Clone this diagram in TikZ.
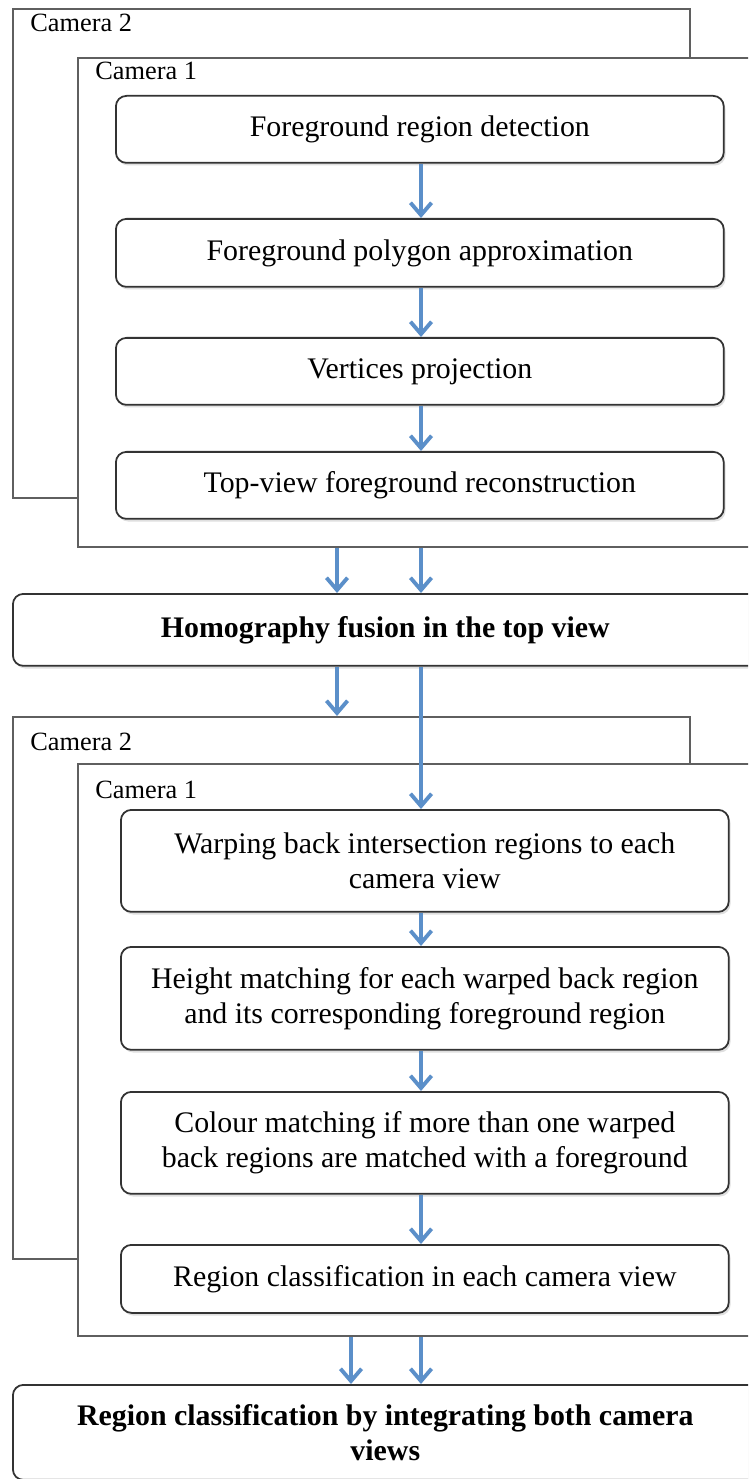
\documentclass[tikz,border=0pt]{standalone}
\usepackage{fontspec}
\setmainfont{Liberation Serif}
\usetikzlibrary{arrows.meta, positioning, shadows}
\definecolor{flowblue}{RGB}{91,143,201}
\definecolor{framegray}{RGB}{95,95,95}

\begin{document}
\begin{tikzpicture}[
      x=0.02cm, y=-0.02cm,
      frame/.style={draw=framegray, line width=1.3pt, fill=white, anchor=north west, inner sep=0pt},
      camlabel/.style={anchor=base west, inner sep=0pt, font=\fontsize{15}{18}\selectfont},
      stepbox/.style={draw=black!80, line width=1pt, rounded corners=6pt, fill=white,
        anchor=north west, minimum width=12.16cm, align=center,
        font=\fontsize{17}{20}\selectfont,
        drop shadow={shadow xshift=1pt, shadow yshift=-1.5pt, opacity=0.25}},
      widebox/.style={stepbox, minimum width=14.9cm, font=\fontsize{17}{20}\selectfont\bfseries},
      flow/.style={draw=flowblue, line width=2.2pt},
      >={Straight Barb[length=7pt, width=12pt]}
    ]
    \clip (0,0) rectangle (748,1479);

    % Upper frames
    \node[frame, minimum width=13.54cm, minimum height=9.78cm] (camtwoa) at (12,8) {};
    \node[camlabel] (camtwoalabel) at (30,32) {Camera 2};
    \node[frame, minimum width=14cm, minimum height=9.78cm] (camonea) at (77,57) {};
    \node[camlabel] (camonealabel) at (95,80) {Camera 1};

    % Upper steps
    \node[stepbox, minimum height=1.34cm] (detect) at (115,95) {Foreground region detection};
    \node[stepbox, minimum height=1.36cm] (polygon) at (115,218) {Foreground polygon approximation};
    \node[stepbox, minimum height=1.34cm] (project) at (115,337) {Vertices projection};
    \node[stepbox, minimum height=1.34cm] (topview) at (115,451) {Top-view foreground reconstruction};

    % Fusion
    \node[widebox, minimum height=1.44cm] (fusion) at (12,593) {Homography fusion in the top view};

    % Lower frames
    \node[frame, minimum width=13.54cm, minimum height=10.84cm] (camtwob) at (12,716) {};
    \node[camlabel] (camtwoblabel) at (30,750) {Camera 2};
    \node[frame, minimum width=14cm, minimum height=11.44cm] (camoneb) at (77,763) {};
    \node[camlabel] (camoneblabel) at (95,798) {Camera 1};

    % Lower steps
    \node[stepbox, minimum height=2.04cm] (warp) at (120,809)
      {Warping back intersection regions to each\\camera view};
    \node[stepbox, minimum height=2.06cm] (height) at (120,946)
      {Height matching for each warped back region\\and its corresponding foreground region};
    \node[stepbox, minimum height=2.04cm] (colour) at (120,1091)
      {Colour matching if more than one warped\\back regions are matched with a foreground};
    \node[stepbox, minimum height=1.36cm] (classify) at (120,1244)
      {Region classification in each camera view};

    % Final
    \node[widebox, minimum height=1.9cm] (integrate) at (12,1384)
      {Region classification by integrating both camera\\views};

    % Arrow columns
    \coordinate (ax) at (337,0);
    \coordinate (bx) at (421,0);
    \coordinate (cx) at (351,0);

    % Arrows
    \draw[flow, ->] (detect.south -| bx) -- (polygon.north -| bx);
    \draw[flow, ->] (polygon.south -| bx) -- (project.north -| bx);
    \draw[flow, ->] (project.south -| bx) -- (topview.north -| bx);
    \draw[flow, ->] (camonea.south -| ax) -- (fusion.north -| ax);
    \draw[flow, ->] (camonea.south -| bx) -- (fusion.north -| bx);
    \draw[flow, ->] (fusion.south -| ax) -- (camtwob.north -| ax);
    \draw[flow, ->] (fusion.south -| bx) -- (warp.north -| bx);
    \draw[flow, ->] (warp.south -| bx) -- (height.north -| bx);
    \draw[flow, ->] (height.south -| bx) -- (colour.north -| bx);
    \draw[flow, ->] (colour.south -| bx) -- (classify.north -| bx);
    \draw[flow, ->] (camoneb.south -| cx) -- (integrate.north -| cx);
    \draw[flow, ->] (camoneb.south -| bx) -- (integrate.north -| bx);

  \end{tikzpicture}
\end{document}
